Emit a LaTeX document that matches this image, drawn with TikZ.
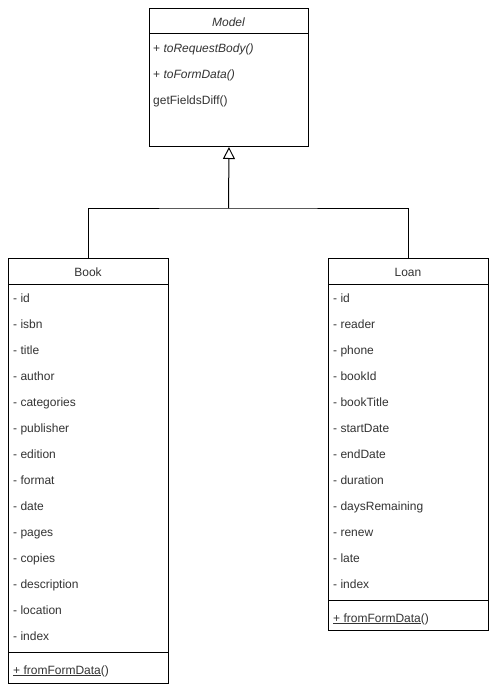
\documentclass[tikz,border=0pt]{standalone}
\usepackage{fontspec}
\setmainfont{Liberation Sans}
\usetikzlibrary{arrows.meta}
\definecolor{txt}{HTML}{333333}
\begin{document}
\begin{tikzpicture}[x=1pt,y=-1pt,
  classbox/.style={draw=black, line width=1pt, rectangle, anchor=north west, inner sep=0pt},
  item/.style={anchor=west, inner sep=0pt, text height=10pt, text depth=0pt, text=txt, font=\fontsize{12}{14}\selectfont},
  head/.style={anchor=center, inner sep=0pt, text height=10pt, text depth=0pt, text=txt, font=\fontsize{12}{14}\selectfont},
  sep/.style={draw=black, line width=1pt},
  link/.style={draw=black, line width=1pt}]
\useasboundingbox (0,0) rectangle (497,694);
\fill[white] (0,0) rectangle (497,694);

% abstract base class
\node[classbox, minimum width=159pt, minimum height=138pt] (model) at (149,8) {};
\node[head, font=\fontsize{12}{14}\selectfont\itshape] (modelname) at (228.5,21) {Model};
\draw[sep] (149,33) -- (308,33);
\node[item] (m1) at (153,47) {+ \textit{toRequestBody()}};
\node[item] (m2) at (153,73) {+ \textit{toFormData()}};
\node[item] (m3) at (153,99) {getFieldsDiff()};

% Book
\node[classbox, minimum width=160pt, minimum height=425pt] (book) at (8,258) {};
\node[head] (bookname) at (88,271) {Book};
\draw[sep] (8,284) -- (168,284);
\foreach \t [count=\i from 0] in {id,isbn,title,author,categories,publisher,edition,format,date,pages,copies,description,location,index}
  \node[item] (b\i) at (13,{297+26*\i}) {- \t};
\draw[sep] (8,652) -- (168,652);
\node[item] (bm) at (13,669) {\underline{+ fromFormData}()};

% Loan
\node[classbox, minimum width=160pt, minimum height=372pt] (loan) at (328,258) {};
\node[head] (loanname) at (408,271) {Loan};
\draw[sep] (328,284) -- (488,284);
\foreach \t [count=\i from 0] in {id,reader,phone,bookId,bookTitle,startDate,endDate,duration,daysRemaining,renew,late,index}
  \node[item] (l\i) at (333,{297+26*\i}) {- \t};
\draw[sep] (328,600) -- (488,600);
\node[item] (lm) at (333,617) {\underline{+ fromFormData}()};

% generalization
\coordinate (j) at (228.5,208);
\draw[link] (book.north) |- (j) -| (loan.north);
\draw[link, -{Triangle[open, length=12pt, width=12pt, line width=1pt]}] (j) -- (model.south);
\end{tikzpicture}
\end{document}
